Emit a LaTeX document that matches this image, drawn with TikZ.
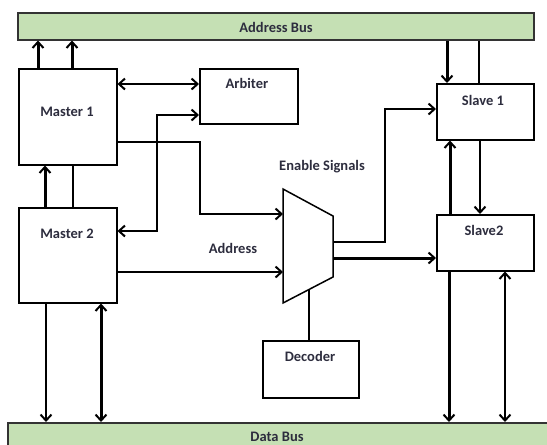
\documentclass[tikz,border=0pt]{standalone}
\usepackage{fontspec}
\setmainfont{Carlito}
\usetikzlibrary{arrows.meta}
\definecolor{busgreen}{RGB}{197,224,180}
\definecolor{labelink}{RGB}{45,45,62}
\tikzset{
  box/.style={draw=black, line width=1.5pt, fill=white, inner sep=0pt},
  bus/.style={draw=black!80, line width=1.5pt, fill=busgreen},
  txt/.style={text=labelink, font=\fontsize{14.5}{16}\selectfont\bfseries, inner sep=0pt},
  wire/.style={line width=2pt},
  heavy/.style={line width=3pt},
  tip/.tip={Straight Barb[length=6pt,width=11pt,line width=2pt]},
  onearrow/.style={-tip},
  twoarrow/.style={tip-tip},
}
\begin{document}
\begin{tikzpicture}[x=1pt,y=-1pt,line join=miter]
\useasboundingbox (0,0) rectangle (547,445);
\clip (0,0) rectangle (547,445);

% buses
\node[bus, minimum width=516pt, minimum height=27pt, anchor=north west] (abus) at (17,12) {};
\node[txt] at (276,27) {Address Bus};
\node[bus, minimum width=560pt, minimum height=40pt, anchor=north west] (dbus) at (7,422) {};
\node[txt] at (277,437) {Data Bus};

% blocks
\node[box, minimum width=98pt, minimum height=96pt, anchor=north west] (m1) at (18,68) {};
\node[txt] (m1t) at (67,112) {Master 1};
\node[box, minimum width=98pt, minimum height=95pt, anchor=north west] (m2) at (18,207) {};
\node[txt] (m2t) at (67,234) {Master 2};
\node[box, minimum width=98pt, minimum height=55pt, anchor=north west] (arb) at (199,68) {};
\node[txt] (arbt) at (247,83) {Arbiter};
\node[box, minimum width=97pt, minimum height=56pt, anchor=north west] (s1) at (436,83) {};
\node[txt] (s1t) at (483,100) {Slave 1};
\node[box, minimum width=97pt, minimum height=56pt, anchor=north west] (s2) at (436,214) {};
\node[txt] (s2t) at (484,230) {Slave2};
\node[box, minimum width=96pt, minimum height=57pt, anchor=north west] (dec) at (262,340) {};
\node[txt] (dect) at (310,356) {Decoder};

% multiplexer
\coordinate (muxTL) at (283,189);
\coordinate (muxTR) at (333,216);
\coordinate (muxBR) at (333,277);
\coordinate (muxBL) at (283,303);
\coordinate (muxB) at (309,289.5);
\draw[line width=1.5pt, fill=white] (muxTL) -- (muxTR) -- (muxBR) -- (muxBL) -- cycle;
\node[txt] at (322,167) {Enable Signals};
\node[txt] at (233,248) {Address};

% masters to address bus
\draw[heavy, onearrow] (m1.north -| 38,0) -- (abus.south -| 38,0);
\draw[heavy, onearrow] (m1.north -| 72,0) -- (abus.south -| 72,0);

% master 2 to master 1
\draw[heavy, onearrow] (m2.north -| 45,0) -- (m1.south -| 45,0);
\draw[wire] (m2.north -| 73,0) -- (m1.south -| 73,0);

% arbiter links
\draw[wire, twoarrow] (m1.east |- 0,84) -- (arb.west |- 0,84);
\draw[wire, twoarrow] (m2.east |- 0,231) -- (157,231) -- (157,115) -- (arb.west |- 0,115);

% address paths into the multiplexer
\draw[wire, onearrow] (m1.east |- 0,142) -- (200,142) -- (200,214) -- (muxTL |- 0,214);
\draw[wire, onearrow] (m2.east |- 0,272) -- (muxTL |- 0,272);

% enable signals to slaves
\draw[wire, onearrow] (muxTR |- 0,242) -- (385,242) -- (385,109) -- (s1.west |- 0,109);
\draw[heavy, onearrow] (muxTR |- 0,258) -- (s2.west |- 0,258);

% decoder
\draw[wire] (muxB) -- (dec.north -| muxB);

% address bus and slaves
\draw[heavy, onearrow] (abus.south -| 447,0) -- (s1.north -| 447,0);
\draw[wire] (s1.north -| 479,0) -- (abus.south -| 479,0);
\draw[heavy, onearrow] (s2.north -| 450,0) -- (s1.south -| 450,0);
\draw[wire, onearrow] (s1.south -| 480,0) -- (s2.north -| 480,0);

% data bus links
\draw[heavy, onearrow] (s2.south -| 449,0) -- (dbus.north -| 449,0);
\draw[wire, twoarrow] (s2.south -| 505,0) -- (dbus.north -| 505,0);
\draw[wire, onearrow] (m2.south -| 46,0) -- (dbus.north -| 46,0);
\draw[heavy, twoarrow] (m2.south -| 101,0) -- (dbus.north -| 101,0);
\end{tikzpicture}
\end{document}
